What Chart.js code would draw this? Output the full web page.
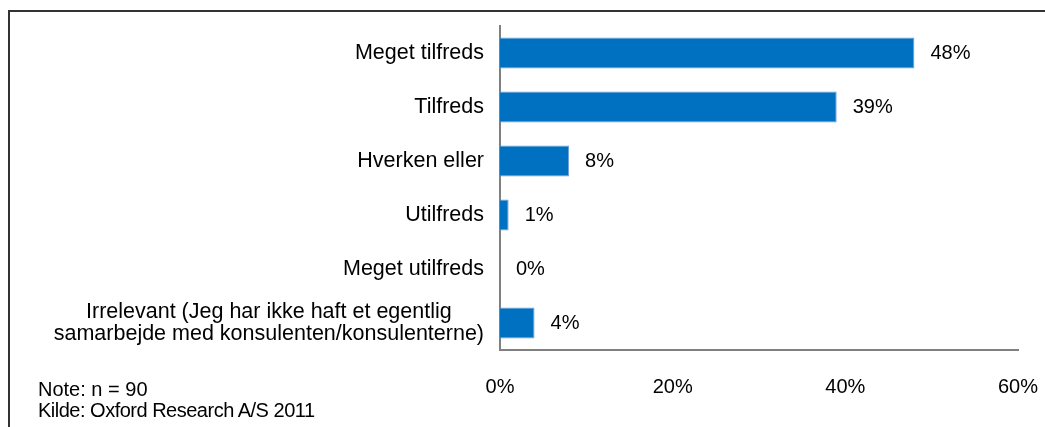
<!DOCTYPE html>
<html>
<head>
<meta charset="utf-8">
<script src="https://cdn.jsdelivr.net/npm/chart.js@4.4.0/dist/chart.umd.min.js"></script>
<style>
    html, body { margin: 0; padding: 0; background: #fff; }
    body { width: 1045px; height: 427px; position: relative; overflow: hidden; font-family: "Liberation Sans", Arial, sans-serif; }
    #frame { position: absolute; left: 8px; top: 10px; right: -10px; bottom: -10px; border-top: 2px solid #333; border-left: 2px solid #333; }
    #chart-wrap { position: absolute; left: 0; top: 0; width: 1045px; height: 427px; }
    .note { position: absolute; left: 38px; font-size: 20px; line-height: 21px; color: #000; white-space: nowrap; }
</style>
</head>
<body>
<div id="frame"></div>
<div id="chart-wrap"><canvas id="satisfaction-chart"></canvas></div>
<div class="note" style="top: 379px;">Note: n = 90</div>
<div class="note" style="top: 400px; letter-spacing: -0.5px;">Kilde: Oxford Research A/S 2011</div>

<script>
// Data
const categories = [
    'Meget tilfreds',
    'Tilfreds',
    'Hverken eller',
    'Utilfreds',
    'Meget utilfreds',
    ['Irrelevant (Jeg har ikke haft et egentlig', 'samarbejde med konsulenten/konsulenterne)']
];
const values = [48, 39, 8, 1, 0, 4];
const xTicks = [0, 20, 40, 60];

const FONT = '"Liberation Sans", Arial, sans-serif';

// draws category labels (multi-line ones centred as a block) and value labels
const labelPlugin = {
    id: 'labelPlugin',
    afterDatasetsDraw(chart) {
        const ctx = chart.ctx;
        const yScale = chart.scales.y;
        const meta = chart.getDatasetMeta(0);
        const right = chart.chartArea.left - 16;
        ctx.save();
        ctx.fillStyle = '#000';
        ctx.textBaseline = 'middle';

        ctx.font = '21.5px ' + FONT;
        categories.forEach((cat, i) => {
            const lines = [].concat(cat);
            const cy = yScale.getPixelForValue(i);
            const lineH = 22;
            const maxW = Math.max(...lines.map(l => ctx.measureText(l).width));
            ctx.textAlign = 'center';
            lines.forEach((line, j) => {
                const ly = cy + (j - (lines.length - 1) / 2) * lineH;
                ctx.fillText(line, right - maxW / 2, ly);
            });
        });

        ctx.font = '20px ' + FONT;
        ctx.textAlign = 'left';
        meta.data.forEach((bar, i) => {
            ctx.fillText(values[i] + '%', bar.x + 16, bar.y);
        });
        ctx.restore();
    }
};

const ctx = document.getElementById('satisfaction-chart').getContext('2d');
new Chart(ctx, {
    type: 'bar',
    data: {
        labels: categories,
        datasets: [{
            data: values,
            backgroundColor: '#0070C0',
            borderColor: '#6f9fd8',
            borderWidth: 1,
            borderSkipped: 'left',
            barPercentage: 0.57,
            categoryPercentage: 1
        }]
    },
    options: {
        indexAxis: 'y',
        responsive: true,
        maintainAspectRatio: false,
        animation: false,
        layout: { padding: { top: 26, right: 27, bottom: 0, left: 0 } },
        plugins: {
            legend: { display: false },
            tooltip: { enabled: false }
        },
        scales: {
            x: {
                min: 0,
                max: 60,
                afterBuildTicks(scale) {
                    scale.ticks = xTicks.map(v => ({ value: v }));
                },
                afterFit(scale) {
                    scale.height = 77;
                    scale.paddingLeft = 0;
                    scale.paddingRight = 0;
                },
                grid: { display: false, drawTicks: false },
                border: { display: true, color: '#808080', width: 2 },
                ticks: {
                    padding: 25,
                    color: '#000',
                    font: { family: FONT, size: 20 },
                    callback: v => v + '%'
                }
            },
            y: {
                afterFit(scale) { scale.width = 500; },
                grid: { display: false, drawTicks: false },
                border: { display: true, color: '#808080', width: 2 },
                ticks: { display: false }
            }
        }
    },
    plugins: [labelPlugin]
});
</script>
</body>
</html>
